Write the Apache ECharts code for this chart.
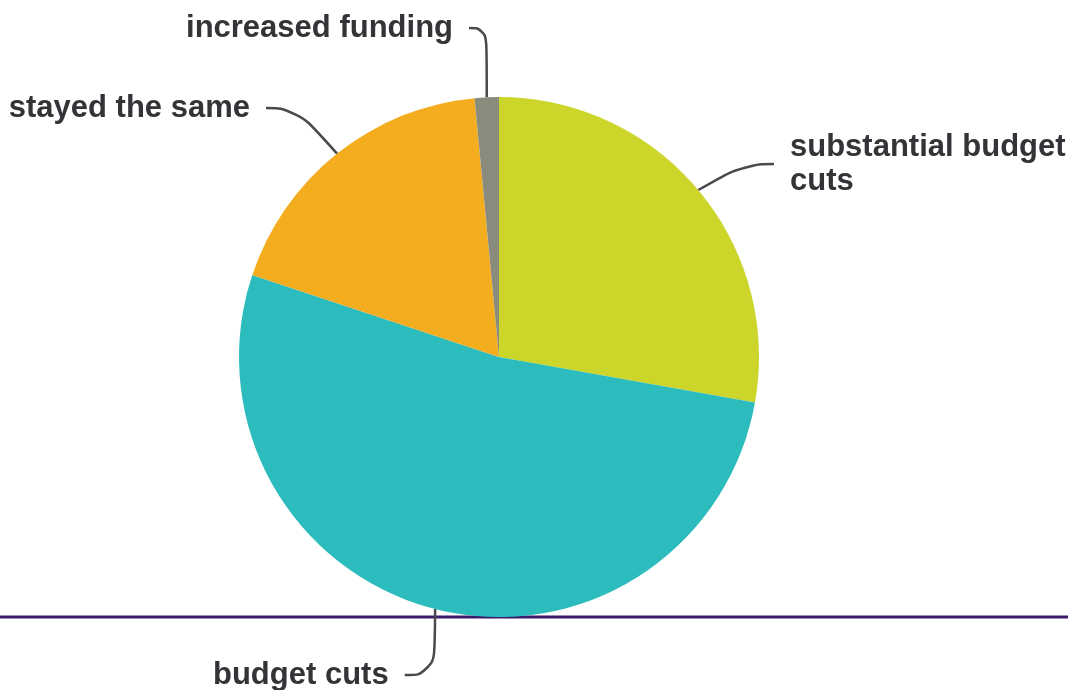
<!DOCTYPE html>
<html>
<head>
<meta charset="utf-8">
<script src="https://cdn.jsdelivr.net/npm/echarts@6/dist/echarts.min.js"></script>
<style>
html,body{margin:0;padding:0;background:#fff;}
#chart{width:1070px;height:690px;}
</style>
</head>
<body>
<div id="chart"></div>
<script>
const categories = ['substantial budget\ncuts', 'budget cuts', 'stayed the same', 'increased funding'];
const values = [27.8, 52.3, 18.4, 1.5];
const colors = ['#CBD52A', '#2DBCBE', '#F4AD1F', '#898B7D'];

// label placement (text edge x, middle y, align) per slice index
const labelSpots = [
  {x: 790, y: 164, align: 'left'},
  {x: 213, y: 675, align: 'left'},
  {x: 250, y: 108, align: 'right'},
  {x: 453, y: 28, align: 'right'}
];
const GAP = 16;

const chart = echarts.init(document.getElementById('chart'));
chart.setOption({
  backgroundColor: '#fff',
  animation: false,
  graphic: [{
    type: 'line',
    shape: {x1: 0, y1: 617, x2: 1068, y2: 617},
    style: {stroke: '#3B1A6C', lineWidth: 3},
    z: 0
  }],
  series: [{
    type: 'pie',
    center: [499, 357],
    radius: 260,
    startAngle: 90,
    clockwise: true,
    z: 2,
    data: categories.map((c, i) => ({name: c, value: values[i], itemStyle: {color: colors[i]}})),
    label: {
      show: true,
      formatter: '{b}',
      fontFamily: 'Liberation Sans, Arial, sans-serif',
      fontWeight: 'bold',
      fontSize: 31,
      lineHeight: 34,
      color: '#333338',
      padding: [0, GAP],
      overflow: 'none'
    },
    labelLine: {
      show: true,
      smooth: 0.5,
      length: 30,
      length2: 30,
      lineStyle: {color: '#4a4a4a', width: 2.5}
    },
    labelLayout: function (p) {
      const s = labelSpots[p.dataIndex];
      return {x: s.x + (s.align === 'left' ? -GAP : GAP), y: s.y, align: s.align, verticalAlign: 'middle'};
    },
    emphasis: {disabled: true}
  }]
});
</script>
</body>
</html>
